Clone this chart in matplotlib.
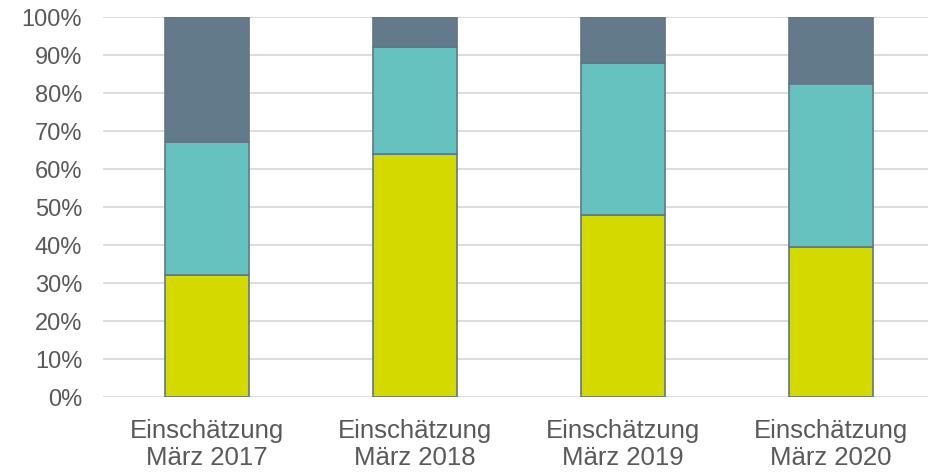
import matplotlib
matplotlib.use("Agg")
import matplotlib.pyplot as plt
from matplotlib.ticker import PercentFormatter

categories = ["Einschätzung\nMärz 2017", "Einschätzung\nMärz 2018",
              "Einschätzung\nMärz 2019", "Einschätzung\nMärz 2020"]
bottom_share = [32, 64, 48, 39.5]
middle_share = [35, 28, 40, 43]
top_share = [33, 8, 12, 17.5]

C_BOTTOM = "#D4D900"
C_MIDDLE = "#66C2BE"
C_TOP = "#627A89"
C_EDGE = "#5F7789"
C_TEXT = "#595959"
C_GRID = "#D9D9D9"

plt.rcParams["font.family"] = ["Liberation Sans", "DejaVu Sans"]

fig = plt.figure(figsize=(9.29, 4.73), dpi=100)
ax = fig.add_axes([103 / 929, 1 - 397 / 473, 1 - 103 / 929, 380 / 473])

x = range(len(categories))
w = 0.40
stack = [0] * len(categories)
for vals, col in [(bottom_share, C_BOTTOM), (middle_share, C_MIDDLE), (top_share, C_TOP)]:
    ax.bar(x, vals, w, bottom=stack, color=col, edgecolor=C_EDGE, linewidth=1.2, zorder=3)
    stack = [s + v for s, v in zip(stack, vals)]

ax.set_ylim(0, 100)
ax.set_xlim(-0.5, 3.5 - 6 / 208)
ax.set_yticks(range(0, 101, 10))
ax.yaxis.set_major_formatter(PercentFormatter(decimals=0))
ax.grid(axis="y", color=C_GRID, linewidth=1.3, zorder=0)
ax.set_xticks(list(x))
ax.set_xticklabels(categories, linespacing=1.12)
ax.tick_params(axis="both", length=0, colors=C_TEXT)
ax.tick_params(axis="y", labelsize=17, pad=15)
ax.tick_params(axis="x", labelsize=18.5, pad=16)
for s in ax.spines.values():
    s.set_visible(False)

fig.savefig("out.png", dpi=100)
